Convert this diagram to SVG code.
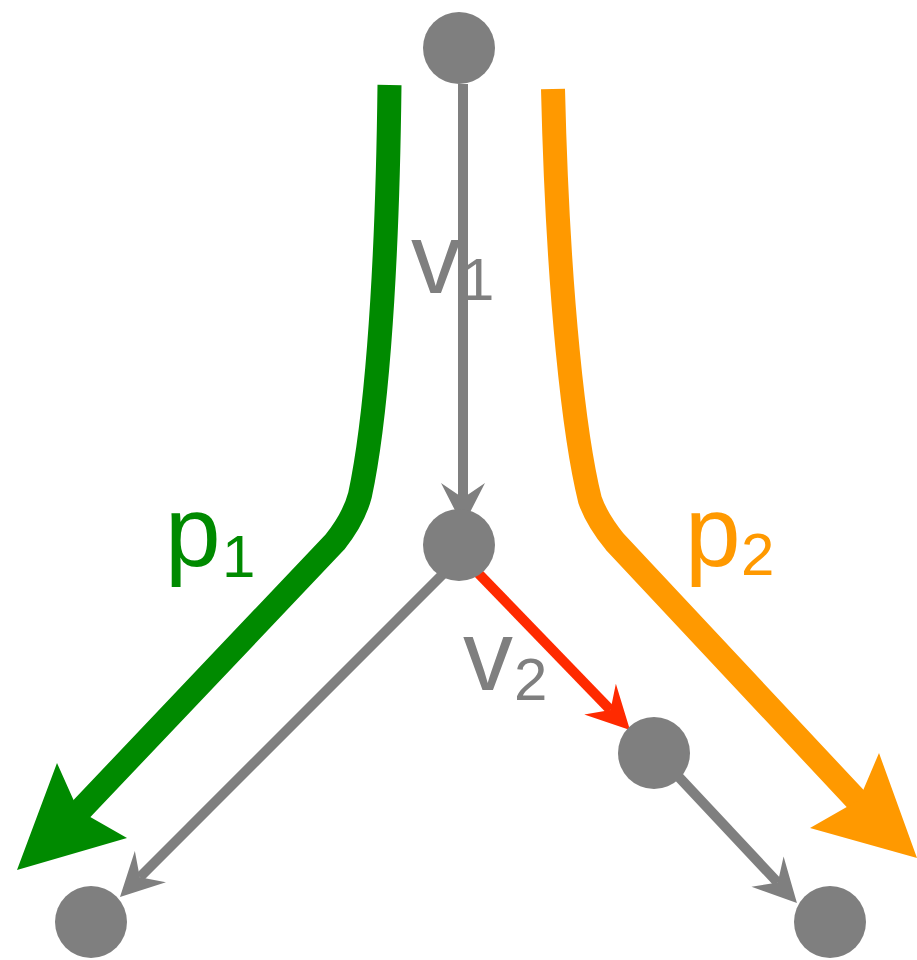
<svg xmlns="http://www.w3.org/2000/svg" width="917" height="960" viewBox="0 0 917 960">
<style>
.node{fill:#7f7f7f}
.edge{fill:none;stroke:#7f7f7f;stroke-width:10}
.red{stroke:#ff2a00}
.lbl{font-family:"Liberation Sans",Arial,sans-serif;font-size:100px}
.sub{font-size:60px}
.g{fill:#7f7f7f}
</style>
<defs>
<marker id="ag" markerUnits="userSpaceOnUse" viewBox="-20 -25 50 50" markerWidth="50" markerHeight="50" refX="0" refY="0" orient="auto">
<path d="M28,0 L-15,-22 L0,0 L-15,22 Z" fill="#7f7f7f"/>
</marker>
<marker id="ar" markerUnits="userSpaceOnUse" viewBox="-20 -25 50 50" markerWidth="50" markerHeight="50" refX="0" refY="0" orient="auto">
<path d="M28,0 L-15,-22 L0,0 L-15,22 Z" fill="#ff2a00"/>
</marker>
</defs>
<g id="path-p1">
<path d="M389.5,85 C387,300 374,430 360,495 Q354,518 335,542 L72,819" fill="none" stroke="#008a00" stroke-width="24"/>
<polygon points="17,870 57,763 78,810 127,838" fill="#008a00"/>
</g>
<g id="path-p2">
<path d="M553,89 C558,300 575,440 590,500 Q597,520 615,542 L865,809" fill="none" stroke="#ff9900" stroke-width="24"/>
<polygon points="917,858 879,753 859,800 810,828" fill="#ff9900"/>
</g>
<g id="labels">
<text class="lbl g" x="411" y="293">v</text>
<text class="lbl sub g" x="461" y="300">1</text>
<text class="lbl g" x="463" y="690">v</text>
<text class="lbl sub g" x="514" y="700">2</text>
<text class="lbl" fill="#008a00" x="165" y="566">p</text>
<text class="lbl sub" fill="#008a00" x="222" y="577">1</text>
<text class="lbl" fill="#ff9900" x="685" y="566">p</text>
<text class="lbl sub" fill="#ff9900" x="741" y="575">2</text>
</g>
<g id="connectors">
<line class="edge" x1="463" y1="84" x2="463" y2="498" marker-end="url(#ag)"/>
<line class="edge" x1="445" y1="572" x2="139.8" y2="877.2" marker-end="url(#ag)"/>
<line class="edge red" x1="478" y1="573" x2="610.5" y2="709.9" marker-end="url(#ar)"/>
<line class="edge" x1="676" y1="774" x2="777.8" y2="882.6" marker-end="url(#ag)"/>
</g>
<g id="n-top"><circle class="node" cx="459" cy="48" r="36"/></g>
<g id="n-mid"><circle class="node" cx="459" cy="545" r="36"/></g>
<g id="n-right"><circle class="node" cx="654" cy="753" r="36"/></g>
<g id="n-bl"><circle class="node" cx="91" cy="922" r="36"/></g>
<g id="n-br"><circle class="node" cx="830" cy="922" r="36"/></g>
</svg>
